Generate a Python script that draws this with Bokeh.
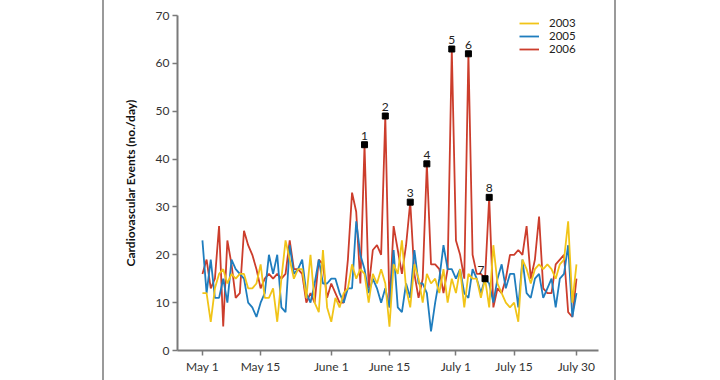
from bokeh.plotting import figure
from bokeh.models import Range1d, FixedTicker, Legend, LegendItem, ColumnDataSource
from bokeh.embed import file_html
from bokeh.resources import INLINE
from bokeh.core.properties import value

# ---- data (day index 0 = May 1 ... 90 = July 30) ----
ev_2003 = [12, 12, 6, 13, 16, 17, 14, 16, 15, 16, 16, 13, 13, 14, 18, 11, 11, 13, 6, 15,
           23, 19, 15, 17, 17, 11, 20, 10, 8, 21, 9, 6, 11, 9, 12, 13, 18, 15, 17, 16,
           10, 16, 14, 17, 14, 5, 18, 16, 23, 13, 9, 18, 15, 10, 16, 14, 15, 12, 17, 10,
           15, 12, 17, 9, 16, 15, 15, 11, 15, 9, 22, 14, 12, 10, 9, 10, 6, 19, 17, 14,
           17, 18, 17, 18, 17, 15, 18, 19, 27, 10, 18]
ev_2005 = [23, 12, 19, 11, 11, 15, 10, 19, 17, 16, 15, 10, 9, 7, 10, 12, 20, 16, 20, 9,
           8, 22, 16, 17, 19, 12, 10, 14, 19, 14, 14, 15, 15, 12, 10, 13, 13, 27, 20, 17,
           12, 15, 13, 10, 13, 9, 21, 9, 8, 14, 11, 21, 14, 14, 12, 4, 10, 15, 22, 17,
           17, 15, 17, 12, 11, 17, 15, 12, 15, 14, 10, 15, 18, 13, 16, 16, 9, 19, 12, 11,
           15, 16, 11, 13, 15, 9, 15, 16, 22, 7, 12]
ev_2006 = [16, 19, 13, 15, 26, 5, 23, 18, 11, 12, 25, 22, 20, 17, 13, 15, 16, 15, 16, 15,
           16, 23, 17, 17, 16, 10, 12, 10, 19, 18, 11, 14, 12, 10, 10, 19, 33, 29, 14, 43,
           13, 21, 22, 20, 49, 9, 26, 21, 16, 22, 31, 16, 11, 15, 39, 18, 18, 17, 12, 17,
           63, 23, 20, 15, 62, 20, 16, 16, 15, 32, 9, 13, 12, 15, 20, 20, 21, 20, 26, 15,
           19, 28, 13, 12, 12, 18, 19, 20, 8, 7, 15]
days = list(range(len(ev_2006)))

peak_days = [39, 44, 50, 54, 60, 64, 68, 69]
peak_labels = ["1", "2", "3", "4", "5", "6", "7", "8"]

tick_days = [0, 14, 31, 45, 61, 75, 90]
tick_labels = ["May 1", "May 15", "June 1", "June 15", "July 1", "July 15", "July 30"]
y_ticks = [0, 10, 20, 30, 40, 50, 60, 70]
y_title = "Cardiovascular Events (no./day)"

series_names = ["2003", "2005", "2006"]
colors = ["#F1C418", "#1F7DBE", "#CC3D2C"]

FONT = "Lato"
GRAY = "#7a7a7a"

p = figure(width=720, height=380, output_backend="svg", toolbar_location=None,
           x_range=Range1d(-6, 95.3), y_range=Range1d(0, 70),
           min_border_left=177, min_border_right=122, min_border_top=15, min_border_bottom=30)
p.border_fill_color = None
p.background_fill_color = None
p.outline_line_color = None
p.grid.visible = False
p.styles = {"background-image": "linear-gradient(to right, transparent 102px, #9a9a9a 102px, #9a9a9a 104px, transparent 104px, transparent 614px, #9a9a9a 614px, #9a9a9a 616px, transparent 616px)"}

# lines
renderers = {}
for name, vals, col in [("2006", ev_2006, colors[2]), ("2005", ev_2005, colors[1]), ("2003", ev_2003, colors[0])]:
    renderers[name] = p.line(days, vals, line_color=col, line_width=1.8)

# peak markers and labels
peak_vals = [ev_2006[d] for d in peak_days]
dx = [(-4 if lab == "7" else 0) for lab in peak_labels]
src = ColumnDataSource(dict(x=peak_days, y=peak_vals, t=peak_labels, dx=dx))
p.scatter("x", "y", source=src, marker="square", size=6, fill_color="black", line_color="black")
p.text("x", "y", text="t", source=src, x_offset="dx", y_offset=-5,
       text_align="center", text_baseline="bottom", text_font=value(FONT),
       text_font_size="12px", text_color="#222222")

# axes
p.xaxis.ticker = FixedTicker(ticks=tick_days)
p.xaxis.major_label_overrides = {d: l for d, l in zip(tick_days, tick_labels)}
p.yaxis.ticker = FixedTicker(ticks=y_ticks)
for ax in (p.xaxis, p.yaxis):
    ax.axis_line_color = GRAY
    ax.axis_line_width = 2
    ax.major_tick_line_color = GRAY
    ax.major_tick_line_width = 1.5
    ax.major_tick_out = 5
    ax.major_tick_in = 0
    ax.minor_tick_line_color = None
    ax.major_label_text_font = FONT
    ax.major_label_text_font_size = "12px"
    ax.major_label_text_color = "#333333"
    ax.major_label_standoff = 3
p.yaxis.axis_label = y_title
p.yaxis.axis_label_text_font = FONT
p.yaxis.axis_label_text_font_style = "bold"
p.yaxis.axis_label_text_font_size = "12px"
p.yaxis.axis_label_text_color = "#111111"
p.yaxis.axis_label_standoff = 15

legend = Legend(items=[LegendItem(label=n, renderers=[renderers[n]]) for n in series_names],
                location=(342, 295), orientation="vertical")
legend.border_line_color = None
legend.background_fill_alpha = 0
legend.padding = 2
legend.spacing = 0
legend.glyph_width = 20
legend.glyph_height = 10
legend.label_height = 10
legend.label_standoff = 10
legend.label_text_font = FONT
legend.label_text_font_size = "11.5px"
legend.label_text_color = "#222222"
p.add_layout(legend)

open("out.html", "w").write(file_html(p, INLINE))
